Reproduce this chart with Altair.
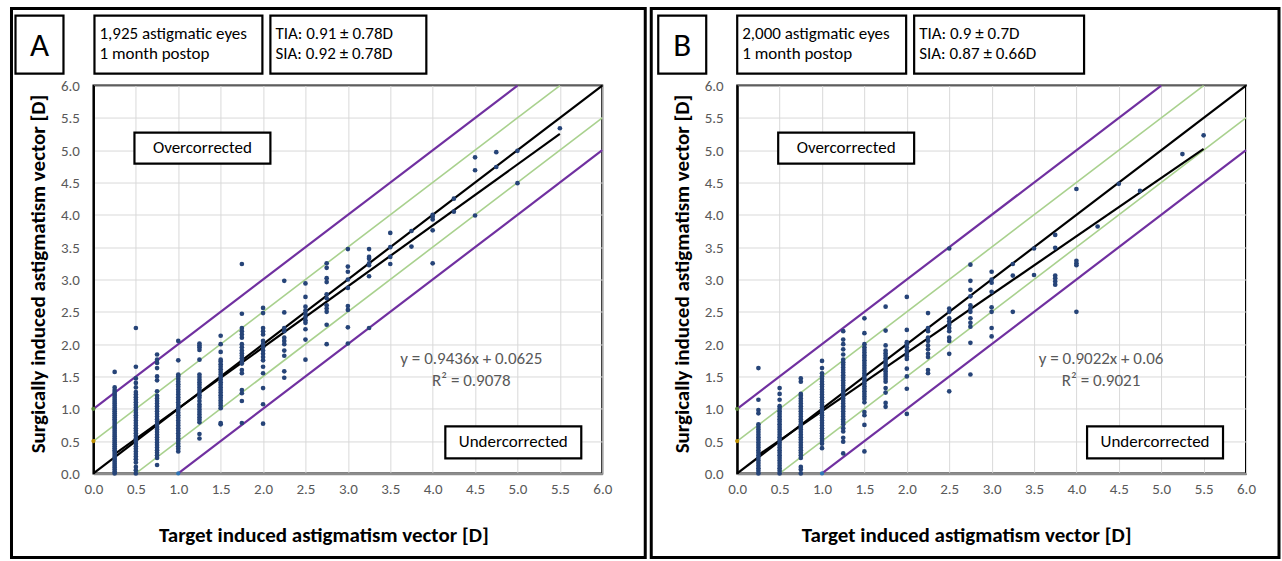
import altair as alt
import pandas as pd

FONT = "Carlito, Lato, sans-serif"

# ---------------- data ----------------
A_COLS = {
    0.25: [0.0, 0.03, 0.06, 0.09, 0.12, 0.15, 0.18, 0.21, 0.24, 0.27, 0.3, 0.33, 0.36, 0.39, 0.42, 0.45,
           0.48, 0.51, 0.54, 0.57, 0.6, 0.63, 0.66, 0.69, 0.72, 0.75, 0.78, 0.81, 0.84, 0.87, 0.9, 0.93,
           0.96, 0.99, 1.02, 1.05, 1.08, 1.11, 1.14, 1.17, 1.2, 1.23, 1.26, 1.29, 1.33, 1.57],
    0.5: [0.0, 0.05, 0.1, 0.17, 0.22, 0.26, 0.3, 0.34, 0.38, 0.42, 0.46, 0.5, 0.54, 0.58, 0.62, 0.66, 0.7,
          0.74, 0.78, 0.82, 0.86, 0.9, 0.94, 0.98, 1.02, 1.06, 1.1, 1.14, 1.18, 1.22, 1.26, 1.33, 1.4, 1.47,
          1.65, 2.25],
    0.75: [0.13, 0.24, 0.28, 0.32, 0.36, 0.4, 0.44, 0.48, 0.52, 0.56, 0.6, 0.64, 0.68, 0.72, 0.76, 0.8, 0.84,
           0.88, 0.92, 0.96, 1.0, 1.04, 1.08, 1.12, 1.16, 1.2, 1.27, 1.44, 1.5, 1.63, 1.71, 1.76, 1.84],
    1.0: [0.34, 0.38, 0.42, 0.46, 0.5, 0.54, 0.58, 0.62, 0.66, 0.7, 0.74, 0.78, 0.82, 0.86, 0.9, 0.94, 0.98,
          1.02, 1.06, 1.1, 1.14, 1.18, 1.22, 1.26, 1.3, 1.34, 1.38, 1.42, 1.46, 1.5, 1.53, 1.75, 2.05],
    1.25: [0.54, 0.61, 0.79, 0.83, 0.87, 0.91, 0.95, 0.99, 1.03, 1.07, 1.12, 1.17, 1.21, 1.25, 1.29, 1.33,
           1.37, 1.41, 1.45, 1.49, 1.53, 1.76, 1.91, 1.95, 1.98, 2.01],
    1.5: [0.76, 0.78, 1.01, 1.05, 1.09, 1.13, 1.17, 1.21, 1.25, 1.29, 1.33, 1.37, 1.41, 1.45, 1.49, 1.53,
          1.57, 1.61, 1.65, 1.69, 1.73, 1.76, 1.88, 2.0, 2.13],
    1.75: [0.78, 1.12, 1.24, 1.29, 1.55, 1.6, 1.7, 1.74, 1.78, 1.82, 1.86, 1.9, 1.95, 2.0, 2.1, 2.15, 2.2,
           2.25, 2.47, 3.24],
    2.0: [0.77, 1.07, 1.32, 1.55, 1.65, 1.75, 1.8, 1.85, 1.9, 1.95, 2.0, 2.05, 2.15, 2.2, 2.25, 2.48, 2.56],
    2.25: [1.48, 1.58, 1.82, 1.9, 2.0, 2.05, 2.1, 2.2, 2.25, 2.49, 2.98],
    2.5: [1.76, 2.07, 2.23, 2.33, 2.37, 2.42, 2.47, 2.52, 2.58, 2.73, 2.94],
    2.75: [2.0, 2.3, 2.5, 2.55, 2.6, 2.71, 2.77, 2.96, 3.02, 3.18, 3.25],
    3.0: [2.01, 2.26, 2.53, 2.59, 2.87, 3.0, 3.12, 3.2, 3.47],
    3.25: [2.25, 3.05, 3.22, 3.25, 3.32, 3.35, 3.47],
    3.5: [3.24, 3.35, 3.5, 3.72],
    3.75: [3.51, 3.75],
    4.0: [3.25, 3.76, 3.93, 3.97, 4.0],
    4.25: [4.05, 4.25],
    4.5: [3.99, 4.69, 4.89],
    4.75: [4.74, 4.97],
    5.0: [4.49, 4.99],
    5.5: [5.34],
}

B_COLS = {
    0.25: [0.0, 0.04, 0.08, 0.12, 0.16, 0.2, 0.24, 0.28, 0.32, 0.36, 0.4, 0.44, 0.48, 0.52, 0.56, 0.6, 0.64,
           0.68, 0.72, 0.76, 0.93, 0.98, 1.14, 1.63],
    0.5: [0.0, 0.04, 0.08, 0.12, 0.16, 0.2, 0.24, 0.28, 0.32, 0.36, 0.4, 0.44, 0.48, 0.52, 0.56, 0.6, 0.64,
          0.68, 0.72, 0.76, 0.8, 0.84, 0.88, 0.92, 0.96, 1.0, 1.04, 1.14, 1.23, 1.32],
    0.75: [0.0, 0.06, 0.1, 0.24, 0.28, 0.32, 0.36, 0.4, 0.44, 0.48, 0.52, 0.56, 0.6, 0.64, 0.68, 0.72, 0.76,
           0.8, 0.84, 0.88, 0.92, 0.96, 1.0, 1.04, 1.08, 1.12, 1.16, 1.2, 1.23, 1.42, 1.47],
    1.0: [0.39, 0.46, 0.5, 0.54, 0.58, 0.62, 0.66, 0.7, 0.74, 0.78, 0.82, 0.86, 0.9, 0.94, 0.98, 1.02, 1.06,
          1.1, 1.14, 1.18, 1.22, 1.26, 1.3, 1.34, 1.38, 1.42, 1.46, 1.5, 1.55, 1.63, 1.74],
    1.25: [0.31, 0.49, 0.55, 0.65, 0.7, 0.76, 0.8, 0.84, 0.88, 0.92, 0.96, 1.0, 1.04, 1.08, 1.12, 1.16, 1.2,
           1.24, 1.28, 1.32, 1.36, 1.4, 1.44, 1.48, 1.52, 1.56, 1.6, 1.64, 1.68, 1.72, 1.76, 1.84, 1.92, 2.0,
           2.07, 2.2],
    1.5: [0.34, 0.75, 0.9, 0.95, 1.1, 1.15, 1.19, 1.23, 1.27, 1.31, 1.35, 1.39, 1.43, 1.47, 1.51, 1.55, 1.59,
          1.63, 1.67, 1.71, 1.75, 1.79, 1.83, 1.87, 1.91, 1.95, 2.0, 2.17, 2.4],
    1.75: [1.03, 1.09, 1.25, 1.32, 1.42, 1.46, 1.5, 1.54, 1.58, 1.62, 1.66, 1.7, 1.74, 1.78, 1.82, 1.86, 1.9,
           1.98, 2.21, 2.58],
    2.0: [0.92, 1.31, 1.5, 1.62, 1.77, 1.81, 1.85, 1.9, 1.95, 2.0, 2.03, 2.22, 2.73],
    2.25: [1.55, 1.6, 1.8, 1.85, 1.92, 1.98, 2.05, 2.1, 2.2, 2.25, 2.48],
    2.5: [1.27, 1.85, 2.05, 2.1, 2.2, 2.25, 2.3, 2.35, 2.4, 2.5, 2.55, 3.48],
    2.75: [1.53, 2.02, 2.27, 2.33, 2.4, 2.5, 2.55, 2.6, 2.74, 2.84, 2.98, 3.23],
    3.0: [2.12, 2.25, 2.5, 2.57, 2.81, 2.95, 3.0, 3.12],
    3.25: [2.5, 3.06, 3.24],
    3.5: [3.07, 3.48],
    3.75: [2.92, 2.97, 3.02, 3.06, 3.49, 3.69],
    4.0: [2.5, 3.22, 3.25, 3.29, 4.4],
    4.25: [3.82],
    4.5: [4.48],
    4.75: [4.37],
    5.25: [4.94],
    5.5: [5.23],
}

# linear trend lines (endpoints of the fitted lines shown on the chart)
A_TREND_X = [0.25, 5.5]
A_TREND_Y = [0.298, 5.252]
B_TREND_X = [0.25, 5.5]
B_TREND_Y = [0.286, 5.022]

# reference lines: identity, +-0.5 D, +-1.0 D
REF_X1 = [0.0, 0.0, 0.5, 0.0, 1.0]
REF_Y1 = [0.0, 0.5, 0.0, 1.0, 0.0]
REF_X2 = [6.0, 5.5, 6.0, 5.0, 6.0]
REF_Y2 = [6.0, 6.0, 5.5, 6.0, 5.0]
REF_COLOR = ["#000000", "#a9d18e", "#a9d18e", "#7030a0", "#7030a0"]
REF_WIDTH = [2.2, 1.6, 1.6, 2.2, 2.2]

# small line-end markers
MARK_X = [0.0, 0.0, 1.0]
MARK_Y = [1.0, 0.5, 0.0]
MARK_COLOR = ["#548235", "#bf9000", "#2e75b6"]

TICKS = [0, 0.5, 1, 1.5, 2, 2.5, 3, 3.5, 4, 4.5, 5, 5.5, 6]

PW, PH = 509, 388
ONE = alt.Data(values=[{}])


def box(x1, y1, x2, y2, sw=2.2, fill="white"):
    if fill is None:
        m = alt.Chart(ONE).mark_rect(fillOpacity=0, stroke="black", strokeWidth=sw)
    else:
        m = alt.Chart(ONE).mark_rect(fill=fill, stroke="black", strokeWidth=sw)
    return m.encode(x=alt.value(x1), x2=alt.value(x2), y=alt.value(y1), y2=alt.value(y2))


def txt(s, x, y, size=17, align="left", color="black", weight="normal"):
    return alt.Chart(ONE).mark_text(text=s, align=align, baseline="middle", font=FONT, fontSize=size,
                                    color=color, fontWeight=weight).encode(x=alt.value(x), y=alt.value(y))


def panel(cols, tx, ty, letter, l1, l2, t1, t2, e1, e2, geo):
    pts = pd.DataFrame([(x, y) for x, ys in cols.items() for y in ys], columns=["x", "y"])
    xs = alt.Scale(domain=[0, 6], nice=False)
    ys = alt.Scale(domain=[0, 6], nice=False)
    xax = alt.Axis(values=TICKS, format=".1f", title="Target induced astigmatism vector [D]",
                   titleX=geo["xt"], titleY=62, titleAlign="center", titleBaseline="middle",
                   labelOverlap=False)
    yax = alt.Axis(values=TICKS, format=".1f", title="Surgically induced astigmatism vector [D]",
                   titleX=-55, titleY=188, titleAlign="center", titleBaseline="middle",
                   domainColor="black", domainWidth=2, labelOverlap=False, labelPadding=14)
    X = alt.X("x:Q", scale=xs, axis=xax)
    Y = alt.Y("y:Q", scale=ys, axis=yax)

    refs = pd.DataFrame({"x": REF_X1, "y": REF_Y1, "x2": REF_X2, "y2": REF_Y2,
                         "c": REF_COLOR, "w": REF_WIDTH})
    ref_layer = alt.Chart(refs).mark_rule().encode(
        x=X, y=Y, x2="x2", y2="y2", color=alt.Color("c:N", scale=None),
        strokeWidth=alt.StrokeWidth("w:Q", scale=None))

    trend = pd.DataFrame({"x": tx, "y": ty})
    trend_layer = alt.Chart(trend).mark_line(color="black", strokeWidth=2.2).encode(x=X, y=Y)

    pt_layer = alt.Chart(pts).mark_circle(size=22, color="#264478", opacity=1).encode(x=X, y=Y)

    marks = pd.DataFrame({"x": MARK_X, "y": MARK_Y, "c": MARK_COLOR})
    mk_layer = alt.Chart(marks).mark_circle(size=18, opacity=1).encode(
        x=X, y=Y, color=alt.Color("c:N", scale=None))

    g = geo
    layers = [
        ref_layer, trend_layer, pt_layer, mk_layer,
        box(g["ox1"], -77, g["ox2"], 472, 3, fill=None),
        box(-78 + g["dx"], -70, -30 + g["dx"], -12),
        txt(letter, -54 + g["dx"], -40, size=33, align="center"),
        box(g["b2"][0], -70, g["b2"][1], -12),
        txt(l1, g["b2"][0] + 5, -52),
        txt(l2, g["b2"][0] + 5, -32),
        box(g["b3"][0], -70, g["b3"][1], -12),
        txt(t1, g["b3"][0] + 5, -52),
        txt(t2, g["b3"][0] + 5, -32),
        box(41, 47, 177, 78),
        txt("Overcorrected", 109, 62.5, size=17, align="center"),
        box(g["u"][0], 341, g["u"][1], 373),
        txt("Undercorrected", (g["u"][0] + g["u"][1]) / 2, 357, size=17, align="center"),
        txt(e1, g["ex"], 274, size=17, align="center", color="#595959"),
        txt(e2, g["ex"], 296, size=17, align="center", color="#595959"),
    ]
    return alt.layer(*layers).properties(width=PW, height=PH)


pA = panel(A_COLS, A_TREND_X, A_TREND_Y, "A", "1,925 astigmatic eyes", "1 month postop",
           "TIA: 0.91 \u00b1 0.78D", "SIA: 0.92 \u00b1 0.78D",
           "y = 0.9436x + 0.0625", "R\u00b2 = 0.9078",
           {"ox1": -82, "ox2": 552, "dx": 0, "b2": (1, 169), "b3": (177, 333),
            "u": (352, 488), "ex": 378, "xt": 230})
pB = panel(B_COLS, B_TREND_X, B_TREND_Y, "B", "2,000 astigmatic eyes", "1 month postop",
           "TIA: 0.9 \u00b1 0.7D", "SIA: 0.87 \u00b1 0.66D",
           "y = 0.9022x + 0.06", "R\u00b2 = 0.9021",
           {"ox1": -86, "ox2": 542, "dx": -1, "b2": (0, 169), "b3": (177, 347),
            "u": (350, 486), "ex": 364, "xt": 229})

chart = alt.hconcat(pA, pB, spacing=135, bounds="flush").properties(
    padding={"left": 8.5, "top": 5.5, "right": 0, "bottom": 0}
).configure_view(stroke="black", strokeWidth=2).configure_axis(
    grid=True, gridColor="#d9d9d9", gridWidth=1, ticks=False, labelFont=FONT, labelFontSize=15,
    labelColor="#595959", labelPadding=8, labelOverlap=False, labelFlush=False,
    titleFont=FONT, titleFontSize=21, titleFontWeight="bold", titleColor="black",
    domainColor="#8c8c8c", domainWidth=2.5
)

chart.save("out.html", embed_options={"renderer": "svg", "actions": False})
